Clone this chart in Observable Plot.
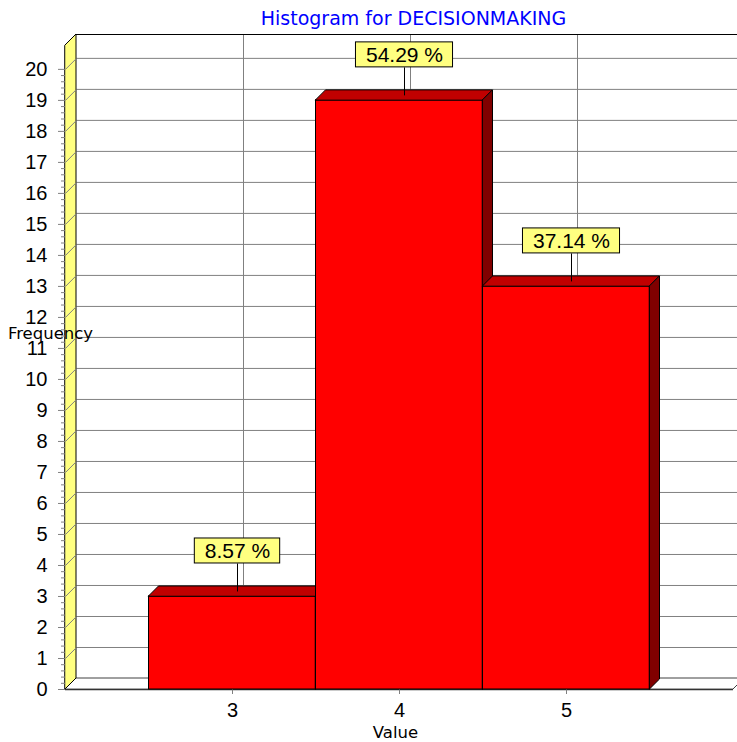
<!DOCTYPE html>
<html>
<head>
<meta charset="utf-8">
<script src="https://cdn.jsdelivr.net/npm/d3@7"></script>
<script src="https://cdn.jsdelivr.net/npm/@observablehq/plot@0.6"></script>
<style>
  body { margin: 0; background: #fff; overflow: hidden; }
</style>
</head>
<body>
<div id="chart"></div>
<script>
// Histogram data
const values = [3, 4, 5];
const counts = [3, 19, 13];
const yTicks = d3.range(0, 21);
const xTicks = [3, 4, 5];
const title = "Histogram for DECISIONMAKING";
const xLabel = "Value";
const yLabel = "Frequency";

// Frame geometry
const W = 737, H = 742;
const margin = {top: 45, right: 4, bottom: 53, left: 65};
const X0 = 2, X1 = 6, YTOP = 20.77;
const kx = (W - margin.left - margin.right) / (X1 - X0);
const ky = (H - margin.top - margin.bottom) / YTOP;
const px = p => p / kx;   // pixels -> x units
const py = p => p / ky;   // pixels -> y units

// 3D depth offsets
const wallDx = px(11), wallDy = py(11);
const barDx = px(10), barDy = py(10);

const total = d3.sum(counts);
const labelFont = "21px 'Liberation Sans', Arial, sans-serif";
const ctx = document.createElement("canvas").getContext("2d");
ctx.font = labelFont;

const marks = [];

// floor
marks.push(Plot.areaX(
  [{y: 0, x1: X0, x2: X1}, {y: wallDy, x1: X0 + wallDx, x2: X1 + wallDx}],
  {y: "y", x1: "x1", x2: "x2", fill: "white", stroke: "#404040"}
));

// back wall grid
marks.push(Plot.ruleY(yTicks.slice(1), {
  y: d => d + wallDy, x1: () => X0 + wallDx, x2: () => X1 + wallDx, stroke: "#808080", strokeOpacity: 1
}));
marks.push(Plot.ruleX(xTicks, {
  x: d => d + wallDx, y1: () => wallDy, y2: () => YTOP + wallDy, stroke: "#808080", strokeOpacity: 1
}));
marks.push(Plot.ruleY([YTOP + wallDy], {
  x1: () => X0 + wallDx, x2: () => X1 + wallDx, stroke: "black", strokeOpacity: 1
}));

// side wall
marks.push(Plot.areaY(
  [{x: X0, y1: 0, y2: YTOP}, {x: X0 + wallDx, y1: wallDy, y2: YTOP + wallDy}],
  {x: "x", y1: "y1", y2: "y2", fill: "#ffff80", stroke: "black"}
));
marks.push(Plot.link(yTicks.slice(1), {
  x1: () => X0, y1: d => d, x2: () => X0 + wallDx, y2: d => d + wallDy, stroke: "#808080"
}));

// front floor edge
marks.push(Plot.ruleY([0], {x1: () => X0, x2: () => X1, stroke: "#333", strokeWidth: 1.5, strokeOpacity: 1}));

// y ticks (major and minor)
marks.push(Plot.ruleY(yTicks, {x1: () => X0 - px(7), x2: () => X0, stroke: "#808080", strokeOpacity: 1}));
const minor = d3.range(0, 101).filter(i => i % 5 !== 0).map(i => i / 5);
marks.push(Plot.ruleY(minor, {x1: () => X0 - px(4), x2: () => X0, stroke: "#808080", strokeOpacity: 1}));

// x ticks
marks.push(Plot.ruleX(xTicks, {y1: () => 0, y2: () => -py(5), stroke: "#808080", strokeOpacity: 1}));

// bars: front, top and side faces, drawn left to right
values.forEach((v, i) => {
  const c = counts[i];
  marks.push(Plot.rect([{v, c}], {
    x1: d => d.v - 0.5, x2: d => d.v + 0.5, y1: () => 0, y2: d => d.c,
    fill: "#ff0000", stroke: "black"
  }));
  marks.push(Plot.areaX(
    [{y: c, x1: v - 0.5, x2: v + 0.5}, {y: c + barDy, x1: v - 0.5 + barDx, x2: v + 0.5 + barDx}],
    {y: "y", x1: "x1", x2: "x2", fill: "#c00000", stroke: "black"}
  ));
  marks.push(Plot.areaY(
    [{x: v + 0.5, y1: 0, y2: c}, {x: v + 0.5 + barDx, y1: barDy, y2: c + barDy}],
    {x: "x", y1: "y1", y2: "y2", fill: "#800000", stroke: "black"}
  ));
});

// percentage callouts
const callouts = values.map((v, i) => {
  const c = counts[i];
  const text = (c / total * 100).toFixed(2) + " %";
  const w = ctx.measureText(text).width + 20;
  const cx = v + barDx / 2;
  const base = c + barDy / 2;
  const boxBottom = base + py(28);
  return {text, cx, base, boxBottom, boxTop: boxBottom + py(25), halfW: px(w) / 2};
});
marks.push(Plot.link(callouts, {
  x1: "cx", x2: "cx", y1: "base", y2: "boxBottom", stroke: "black"
}));
marks.push(Plot.rect(callouts, {
  x1: d => d.cx - d.halfW, x2: d => d.cx + d.halfW, y1: "boxBottom", y2: "boxTop",
  fill: "#ffff80", stroke: "black"
}));
marks.push(Plot.text(callouts, {
  x: "cx", y: d => (d.boxBottom + d.boxTop) / 2, text: "text",
  fontFamily: "'Liberation Sans', Arial, sans-serif", fontSize: 21, fill: "black"
}));

// tick labels
marks.push(Plot.text(yTicks, {
  x: () => X0, y: d => d, text: d => String(d), dx: -18, textAnchor: "end",
  fontFamily: "'Liberation Sans', Arial, sans-serif", fontSize: 20, fill: "black"
}));
marks.push(Plot.text(xTicks, {
  x: d => d, y: () => 0, text: d => String(d), dy: 21,
  fontFamily: "'Liberation Sans', Arial, sans-serif", fontSize: 20, fill: "black"
}));

// titles
marks.push(Plot.text([title], {
  frameAnchor: "top", text: d => d, dx: 14, dy: -27, lineAnchor: "middle",
  fontFamily: "'DejaVu Sans', Verdana, sans-serif", fontSize: 19, fill: "#0000ff"
}));
marks.push(Plot.text([xLabel], {
  frameAnchor: "bottom", text: d => d, dx: -4, dy: 43, lineAnchor: "middle",
  fontFamily: "'DejaVu Sans', Verdana, sans-serif", fontSize: 16.5, fill: "black"
}));
marks.push(Plot.text([yLabel], {
  frameAnchor: "left", text: d => d, dx: -15, dy: -34, textAnchor: "middle", lineAnchor: "middle",
  fontFamily: "'DejaVu Sans', Verdana, sans-serif", fontSize: 16.5, fill: "black"
}));

const chart = Plot.plot({
  width: W,
  height: H,
  marginTop: margin.top,
  marginRight: margin.right,
  marginBottom: margin.bottom,
  marginLeft: margin.left,
  x: {domain: [X0, X1], axis: null},
  y: {domain: [0, YTOP], axis: null},
  style: {background: "white", overflow: "visible"},
  marks
});
document.getElementById("chart").appendChild(chart);
</script>
</body>
</html>
